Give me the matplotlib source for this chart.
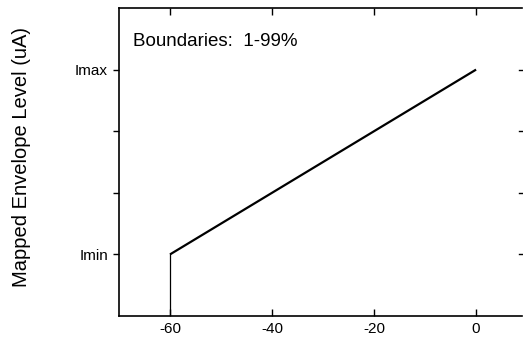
import matplotlib

matplotlib.use("Agg")
import matplotlib.pyplot as plt

# envelope level in dB vs mapped current (Imin=1, Imax=4 on arbitrary scale)
ramp_db = [-60, 0]
ramp_level = [1, 4]
floor_db = [-60, -60]
floor_level = [0, 1]

x_ticks = [-60, -40, -20, 0]
y_ticks = [1, 2, 3, 4]
y_ticklabels = ["Imin", "", "", "Imax"]

plt.rcParams.update({"font.family": ["Liberation Sans", "DejaVu Sans"]})

fig = plt.figure(figsize=(5.23, 3.39), dpi=100)
ax = fig.add_axes([119 / 523, 1 - 316 / 339, (522 - 119) / 523, (316 - 8) / 339])

ax.plot(ramp_db, ramp_level, color="black", linewidth=1.6, solid_capstyle="butt")
ax.plot(floor_db, floor_level, color="black", linewidth=0.9)

ax.set_xlim(-70, 9)
ax.set_ylim(0, 5)
ax.set_xticks(x_ticks)
ax.set_xticklabels([str(v) for v in x_ticks])
ax.set_yticks(y_ticks)
ax.set_yticklabels(y_ticklabels)

ax.spines["right"].set_visible(False)
for s in ("left", "bottom", "top"):
    ax.spines[s].set_linewidth(1.2)

ax.tick_params(axis="x", which="both", direction="in", top=True, bottom=True,
               length=5, width=1, labelsize=11, pad=4)
ax.tick_params(axis="y", which="both", direction="out", left=True, right=False,
               length=4, width=1, labelsize=11, pad=4)
# right-side inward ticks
for yv in y_ticks:
    ax.plot([1.0, 0.992], [yv, yv], transform=ax.get_yaxis_transform(),
            color="black", linewidth=1, clip_on=False)

ax.set_ylabel("Mapped Envelope Level (uA)", fontsize=14.5)
ax.yaxis.set_label_coords(-0.218, 0.515)
ax.text(-67.3, 4.45, "Boundaries:  1-99%", fontsize=13.5, va="center", ha="left")

fig.savefig("out.png", dpi=100)
